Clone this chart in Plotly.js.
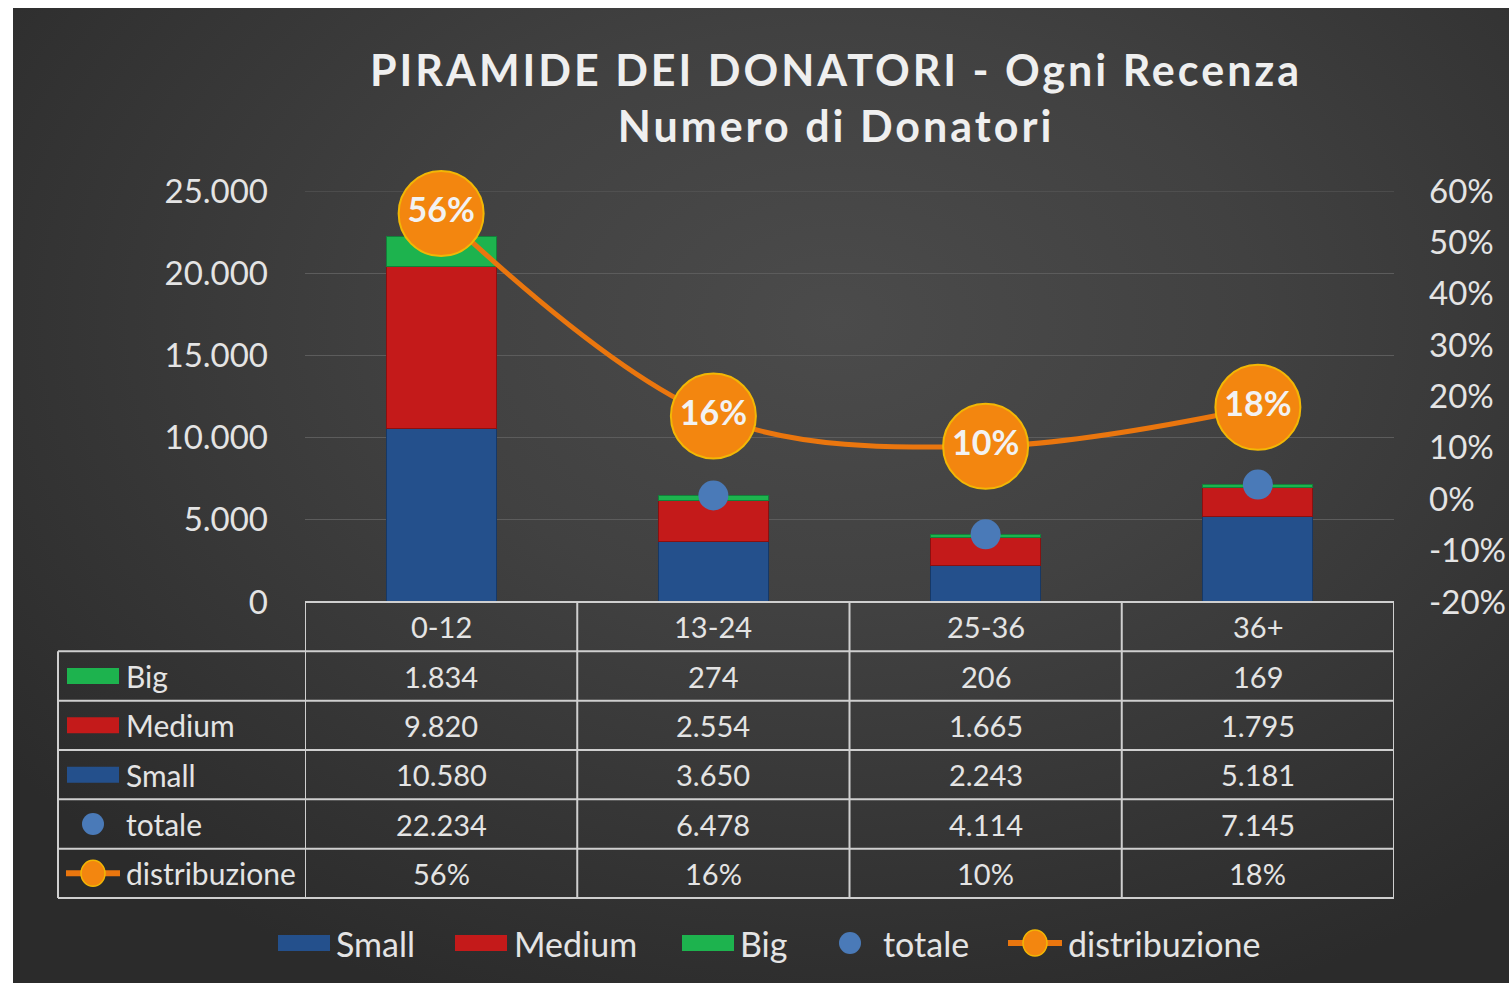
<!DOCTYPE html>
<html><head><meta charset="utf-8">
<script src="https://cdn.plot.ly/plotly-3.0.1.min.js"></script>
<style>
html,body{margin:0;padding:0;background:#fff;width:1509px;height:983px;overflow:hidden;}
#bg{position:absolute;left:13px;top:8px;width:1496px;height:975px;
background:radial-gradient(ellipse 70% 75% at 55% 32%, #4b4b4b 0%, #414141 40%, #2b2b2b 100%);}
#chart{position:absolute;left:0;top:0;width:1509px;height:983px;}
#chart .gtitle{letter-spacing:3px;}
</style></head><body>
<div id="bg"></div><div id="chart"></div>
<script>
// ---- data ----
const categories = ['0-12', '13-24', '25-36', '36+'];
const small = [10580, 3650, 2243, 5181];
const medium = [9820, 2554, 1665, 1795];
const big = [1834, 274, 206, 169];
const totale = [22234, 6478, 4114, 7145];
const distribuzione = [0.556, 0.162, 0.103, 0.179];
const seriesNames = ['Small', 'Medium', 'Big', 'totale', 'distribuzione'];
const leftTickVals = [0, 5000, 10000, 15000, 20000, 25000];
const rightTickVals = [-0.2, -0.1, 0, 0.1, 0.2, 0.3, 0.4, 0.5, 0.6];
const rightTickText = ['-20%', '-10%', '0%', '10%', '20%', '30%', '40%', '50%', '60%'];

// ---- styling ----
const FONT = 'Lato, "Open Sans", sans-serif';
const TXT = '#e4e4e4';
const GRID = '#5c5c5c';
const C_SMALL = '#24508c', C_MED = '#c41a1a', C_BIG = '#1db34e';
const C_TOT = '#4a7ab8', C_DIST = '#ea760e', C_DISTM = '#f3860f', C_DISTB = '#f2b705';
const W = 1509, H = 983, L = 305, R = 1394, T = 191, B = 602;
const px2x = p => (p - L) / (R - L);
const px2y = p => (B - p) / (B - T);
const fmt = n => String(n).replace(/\B(?=(\d{3})+(?!\d))/g, '.');
const pct = v => Math.round(v * 100) + '%';

const traces = [
  {type:'bar', name:seriesNames[0], x:categories, y:small, marker:{color:C_SMALL, line:{color:'#163866', width:1}}, hoverinfo:'skip'},
  {type:'bar', name:seriesNames[1], x:categories, y:medium, marker:{color:C_MED, line:{color:'#8a1010', width:1}}, hoverinfo:'skip'},
  {type:'bar', name:seriesNames[2], x:categories, y:big, marker:{color:C_BIG, line:{color:'#12803a', width:1}}, hoverinfo:'skip'},
  {type:'scatter', mode:'markers', name:seriesNames[3], x:categories, y:totale, marker:{color:C_TOT, size:30}, hoverinfo:'skip'},
  {type:'scatter', mode:'lines+markers+text', name:seriesNames[4], x:categories, y:distribuzione, yaxis:'y2',
   line:{color:C_DIST, width:5, shape:'spline', smoothing:1},
   marker:{color:C_DISTM, size:85, line:{color:C_DISTB, width:2}},
   text:distribuzione.map(pct), textposition:'middle center',
   textfont:{family:FONT, size:34, color:'#f2f2f2', weight:'bold'}, hoverinfo:'skip', cliponaxis:false}
];

const shapes = [];
const annotations = [];
const lineStyle = {color:'#cfcfcf', width:2};

// top gridline (at the upper end of the left axis range)
shapes.push({type:'line', xref:'paper', yref:'y', x0:0, x1:1, y0:leftTickVals[leftTickVals.length - 1],
  y1:leftTickVals[leftTickVals.length - 1], line:{color:GRID, width:1}, layer:'below'});

// table geometry
const rowH = (898 - B) / 6;
const rowY = i => B + i * rowH;         // row boundaries
const rows = [
  {name:'Big', vals:big.map(fmt), sym:'rect', color:C_BIG},
  {name:'Medium', vals:medium.map(fmt), sym:'rect', color:C_MED},
  {name:'Small', vals:small.map(fmt), sym:'rect', color:C_SMALL},
  {name:'totale', vals:totale.map(fmt), sym:'dot', color:C_TOT},
  {name:'distribuzione', vals:distribuzione.map(pct), sym:'line', color:C_DIST}
];

shapes.push({type:'line', xref:'paper', yref:'paper', x0:0, x1:1, y0:px2y(B), y1:px2y(B), line:lineStyle});
for (let i = 1; i <= 6; i++) {
  shapes.push({type:'line', xref:'paper', yref:'paper', x0:px2x(58), x1:1, y0:px2y(rowY(i)), y1:px2y(rowY(i)), line:lineStyle});
}
for (let i = 0; i <= categories.length; i++) {
  shapes.push({type:'line', xref:'x', yref:'paper', x0:i - 0.5, x1:i - 0.5, y0:px2y(B), y1:px2y(rowY(6)), line:lineStyle});
}
shapes.push({type:'line', xref:'paper', yref:'paper', x0:px2x(58), x1:px2x(58), y0:px2y(rowY(1)), y1:px2y(rowY(6)), line:lineStyle});

function addSymbol(sym, color, cx, cy) {
  if (sym === 'rect') {
    shapes.push({type:'rect', xref:'paper', yref:'paper', x0:px2x(cx - 26), x1:px2x(cx + 26), y0:px2y(cy - 8), y1:px2y(cy + 8),
      fillcolor:color, line:{width:0}});
  } else if (sym === 'dot') {
    shapes.push({type:'circle', xref:'paper', yref:'paper', x0:px2x(cx - 11), x1:px2x(cx + 11), y0:px2y(cy - 11), y1:px2y(cy + 11),
      fillcolor:C_TOT, line:{width:0}});
  } else {
    shapes.push({type:'line', xref:'paper', yref:'paper', x0:px2x(cx - 27), x1:px2x(cx + 27), y0:px2y(cy), y1:px2y(cy),
      line:{color:C_DIST, width:6}});
    shapes.push({type:'circle', xref:'paper', yref:'paper', x0:px2x(cx - 12), x1:px2x(cx + 12), y0:px2y(cy - 13), y1:px2y(cy + 13),
      fillcolor:C_DISTM, line:{color:C_DISTB, width:1.5}});
  }
}

rows.forEach((r, i) => {
  const cy = (rowY(i + 1) + rowY(i + 2)) / 2;
  addSymbol(r.sym, r.color, 93, cy);
  annotations.push({xref:'paper', yref:'paper', x:px2x(124), y:px2y(cy), xanchor:'left', yanchor:'middle',
    text:r.name, showarrow:false, font:{family:FONT, size:30, color:TXT}});
  r.vals.forEach((v, j) => {
    annotations.push({xref:'x', yref:'paper', x:categories[j], y:px2y(cy), xanchor:'center', yanchor:'middle',
      text:v, showarrow:false, font:{family:FONT, size:29, color:TXT}});
  });
});
categories.forEach(c => {
  annotations.push({xref:'x', yref:'paper', x:c, y:px2y((rowY(0) + rowY(1)) / 2), xanchor:'center', yanchor:'middle',
    text:c, showarrow:false, font:{family:FONT, size:29, color:TXT}});
});

// bottom legend
const legY = 943;
const legItems = [
  {name:seriesNames[0], sym:'rect', color:C_SMALL, sx:304, tx:334},
  {name:seriesNames[1], sym:'rect', color:C_MED, sx:481, tx:512},
  {name:seriesNames[2], sym:'rect', color:C_BIG, sx:708, tx:738},
  {name:seriesNames[3], sym:'dot', color:C_TOT, sx:850, tx:881},
  {name:seriesNames[4], sym:'line', color:C_DIST, sx:1035, tx:1066}
];
legItems.forEach(it => {
  addSymbol(it.sym, it.color, it.sx, legY);
  annotations.push({xref:'paper', yref:'paper', x:px2x(it.tx), y:px2y(legY), xanchor:'left', yanchor:'middle',
    text:it.name, showarrow:false, font:{family:FONT, size:34, color:TXT}});
});

const layout = {
  width:W, height:H,
  margin:{l:L, r:W - R, t:T, b:H - B, pad:0},
  paper_bgcolor:'rgba(0,0,0,0)', plot_bgcolor:'rgba(0,0,0,0)',
  separators:',.',
  font:{family:FONT, color:TXT},
  barmode:'stack', bargap:0.596,
  showlegend:false,
  title:{text:'PIRAMIDE DEI DONATORI - Ogni Recenza<br>Numero di Donatori', x:836 / W, xanchor:'center',
         y:1 - 86 / H, yanchor:'middle', font:{family:FONT, size:43, color:'#efefef', weight:'bold'}},
  xaxis:{type:'category', range:[-0.5, categories.length - 0.5], showticklabels:false, ticks:'', showgrid:false,
         zeroline:false, showline:false, fixedrange:true},
  yaxis:{range:[0, 25000], tickvals:leftTickVals, tickformat:',d', showgrid:true, gridcolor:GRID, gridwidth:1,
         zeroline:false, showline:false, ticks:'', ticklabelstandoff:36, tickfont:{family:FONT, size:33, color:TXT}, fixedrange:true},
  yaxis2:{overlaying:'y', side:'right', range:[-0.2, 0.6], tickvals:rightTickVals, ticktext:rightTickText,
          showgrid:false, zeroline:false, showline:false, ticks:'', ticklabelstandoff:34,
          tickfont:{family:FONT, size:33, color:TXT}, fixedrange:true},
  shapes:shapes, annotations:annotations
};

Plotly.newPlot('chart', traces, layout, {displayModeBar:false, staticPlot:true});
</script></body></html>
